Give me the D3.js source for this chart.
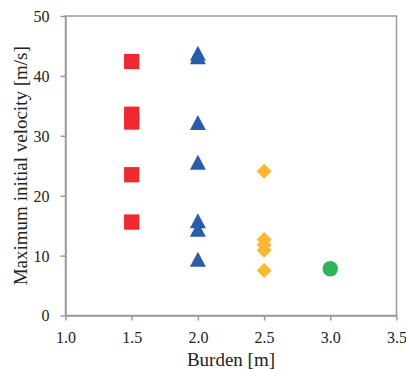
<!DOCTYPE html>
<html><head><meta charset="utf-8">
<script src="https://cdn.jsdelivr.net/npm/d3@7"></script>
</head>
<body style="margin:0;background:#fff">
<svg id="c" width="406" height="369" style="font-family:'Liberation Serif'"></svg>
<script>
const xTicks = [1.0, 1.5, 2.0, 2.5, 3.0, 3.5];
const yTicks = [0, 10, 20, 30, 40, 50];
const xLabel = "Burden [m]";
const yLabel = "Maximum initial velocity [m/s]";

const squareX = [1.5, 1.5, 1.5, 1.5, 1.5];
const squareY = [42.4, 33.6, 32.3, 23.5, 15.6];
const triangleX = [2.0, 2.0, 2.0, 2.0, 2.0, 2.0, 2.0];
const triangleY = [43.8, 43.2, 32.2, 25.6, 15.8, 14.4, 9.4];
const diamondX = [2.5, 2.5, 2.5, 2.5, 2.5];
const diamondY = [24.1, 12.7, 11.8, 10.9, 7.5];
const circleX = [3.0];
const circleY = [7.8];

const svg = d3.select("#c");
const m = {l:65.5, r:9.5, t:16, b:53.5};
const W = 406, H = 369;
const x = d3.scaleLinear().domain([1.0, 3.5]).range([m.l, W - m.r]);
const y = d3.scaleLinear().domain([0, 50]).range([H - m.b, m.t]);
const st = sz => `font-family:'Liberation Serif';font-size:${sz}px`;

const axisCol = "#9a9a9a";
svg.append("rect").attr("x", x(1.0)).attr("y", y(50)).attr("width", x(3.5)-x(1.0)).attr("height", y(0)-y(50))
  .attr("fill","none").attr("stroke",axisCol).attr("stroke-width",1.5);

const xa = svg.append("g").attr("transform",`translate(0,${y(0)})`)
  .call(d3.axisBottom(x).tickValues(xTicks).tickFormat(d3.format(".1f")).tickSize(5).tickSizeOuter(0));
const ya = svg.append("g").attr("transform",`translate(${x(1.0)},0)`)
  .call(d3.axisLeft(y).tickValues(yTicks).tickFormat(d3.format("d")).tickSize(5).tickSizeOuter(0));
[xa, ya].forEach(g => {
  g.attr("font-family", null).attr("font-size", null);
  g.select(".domain").attr("stroke", axisCol).attr("stroke-width",1.5);
  g.selectAll(".tick line").attr("stroke", axisCol).attr("stroke-width",1.5);
  g.selectAll("text").attr("style", st(16)).attr("fill","#222");
});
xa.selectAll("text").attr("y", 27).attr("dy", null);
ya.selectAll("text").attr("x", -16).attr("dy", "0.34em");

svg.append("text").attr("x", (x(1.0)+x(3.5))/2).attr("y", 366).attr("text-anchor","middle")
  .attr("style", st(19)).attr("fill","#222").text(xLabel);
svg.append("text").attr("transform", `translate(27,${(y(0)+y(50))/2}) rotate(-90)`).attr("text-anchor","middle")
  .attr("style", st(19)).attr("fill","#222").text(yLabel);

const s = 15.3;
svg.append("g").selectAll("rect").data(squareY).join("rect")
  .attr("x",(d,i)=>x(squareX[i])-s/2).attr("y",d=>y(d)-s/2).attr("width",s).attr("height",s).attr("fill","#EE2A30");

const th = 15, tw = 16;
svg.append("g").selectAll("path").data(triangleY).join("path")
  .attr("d", `M0,${-th/2}L${tw/2},${th/2}L${-tw/2},${th/2}Z`)
  .attr("transform",(d,i)=>`translate(${x(triangleX[i])},${y(d)})`).attr("fill","#2A5CA8");

const dh = 7.5;
svg.append("g").selectAll("path").data(diamondY).join("path")
  .attr("d", `M0,${-dh}L${dh},0L0,${dh}L${-dh},0Z`)
  .attr("transform",(d,i)=>`translate(${x(diamondX[i])},${y(d)})`).attr("fill","#FBB830");

svg.append("g").selectAll("circle").data(circleY).join("circle")
  .attr("cx",(d,i)=>x(circleX[i])).attr("cy",d=>y(d)).attr("r",7.7).attr("fill","#2DB55D");
</script></body></html>
